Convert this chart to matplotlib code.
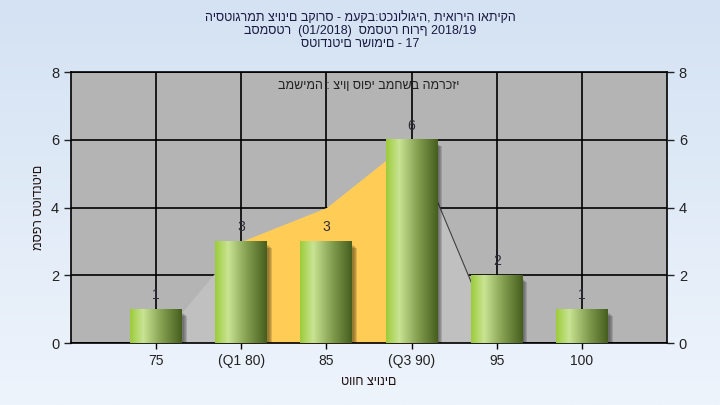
import numpy as np
import matplotlib
matplotlib.use('Agg')
import matplotlib.pyplot as plt
from matplotlib.colors import LinearSegmentedColormap
from matplotlib.patches import Rectangle

plt.rcParams['font.family'] = ['Liberation Sans', 'DejaVu Sans']

# נתונים
categories = ['75', '(Q1 80)', '85', '(Q3 90)', '95', '100']
counts = [1, 3, 3, 6, 2, 1]
area_values = [0, 3, 4, 6, 0, 0]
q1_index = 1
q3_index = 3

title_lines = ['היסטוגרמת ציונים בקורס - מעקב:טכנולוגיה, תיאוריה ואתיקה',
               'בסמסטר  (01/2018)  סמסטר חורף 2018/19',
               'סטודנטים רשומים - 17']
note_text = 'במשימה : ציון סופי במחשב המרכזי'
x_label = 'טווח ציונים'
y_label = 'מספר סטודנטים'

fig = plt.figure(figsize=(7.2, 4.05), dpi=100)

# רקע בגרדיאנט
bg = fig.add_axes([0, 0, 1, 1], zorder=-10)
grad = np.linspace(0, 1, 256).reshape(-1, 1)
bg_cmap = LinearSegmentedColormap.from_list('bg', ['#d4e2f3', '#eef4fc'])
bg.imshow(grad, aspect='auto', cmap=bg_cmap, extent=[0, 1, 0, 1])
bg.axis('off')

ax = fig.add_axes([0.0986, 0.153, 0.8278, 0.669])
ax.set_facecolor('#b4b4b4')

x = np.arange(1, len(categories) + 1)

# שטח
ax.fill_between(x, area_values, color='#c0c0c0', zorder=2, linewidth=0)
xs = x[q1_index:q3_index + 1]
ys = area_values[q1_index:q3_index + 1]
ax.fill_between(xs, ys, color='#ffcc55', zorder=2.1, linewidth=0)
ax.plot(x[q3_index:], area_values[q3_index:], color='#404040', lw=0.8, zorder=2.2)

# עמודות עם גרדיאנט
bar_w = 0.61
bar_cmap = LinearSegmentedColormap.from_list(
    'bar', [(0, '#9ccb3a'), (0.25, '#c9e493'), (0.6, '#86a252'), (1, '#465e1e')])
hgrad = np.linspace(0, 1, 128).reshape(1, -1)
for xi, c in zip(x, counts):
    for k, a in enumerate([0.10, 0.10, 0.12, 0.14]):
        off = 0.02 + k * 0.012
        ax.add_patch(Rectangle((xi - bar_w / 2 + off, -0.1), bar_w, c + 0.02 - off * 2,
                               color='black', alpha=a, lw=0, zorder=2.5))
    ax.imshow(hgrad, aspect='auto', cmap=bar_cmap,
              extent=[xi - bar_w / 2, xi + bar_w / 2, 0, c], zorder=3)
    ax.annotate(str(c), (xi, c), xytext=(0, 5), textcoords='offset points',
                ha='center', va='bottom', fontsize=10, color='#2b2b3b', zorder=4)

ax.set_xlim(0, 7)
ax.set_ylim(0, 8)
ax.set_xticks(x)
ax.set_xticklabels(categories, fontsize=10, color='#222222')
ax.set_yticks([0, 2, 4, 6, 8])
ax.tick_params(axis='y', labelsize=10.5, colors='#222222', length=5, width=1)
ax.tick_params(axis='x', length=4, width=1, pad=4)
ax.grid(True, color='black', lw=1.2, zorder=1)
ax.set_axisbelow(True)
for s in ax.spines.values():
    s.set_color('black')
    s.set_linewidth(1.2)

ax2 = ax.twinx()
ax2.set_ylim(0, 8)
ax2.set_yticks([0, 2, 4, 6, 8])
ax2.tick_params(axis='y', labelsize=10.5, colors='#222222', length=5, width=1)
for s in ax2.spines.values():
    s.set_visible(False)

ax.text(0.5, 0.95, note_text, transform=ax.transAxes, ha='center', va='center',
        fontsize=9, color='#222222', zorder=5)

ax.set_xlabel(x_label, fontsize=9, color='#1e1010', labelpad=6)
ax.set_ylabel(y_label, fontsize=9, color='#1e1010', labelpad=4)

for i, line in enumerate(title_lines):
    fig.text(0.5, 1 - (18 + 13 * i) / 405, line, ha='center', va='center',
             fontsize=9, color='#1a1a40')

fig.savefig('out.png', dpi=100)
